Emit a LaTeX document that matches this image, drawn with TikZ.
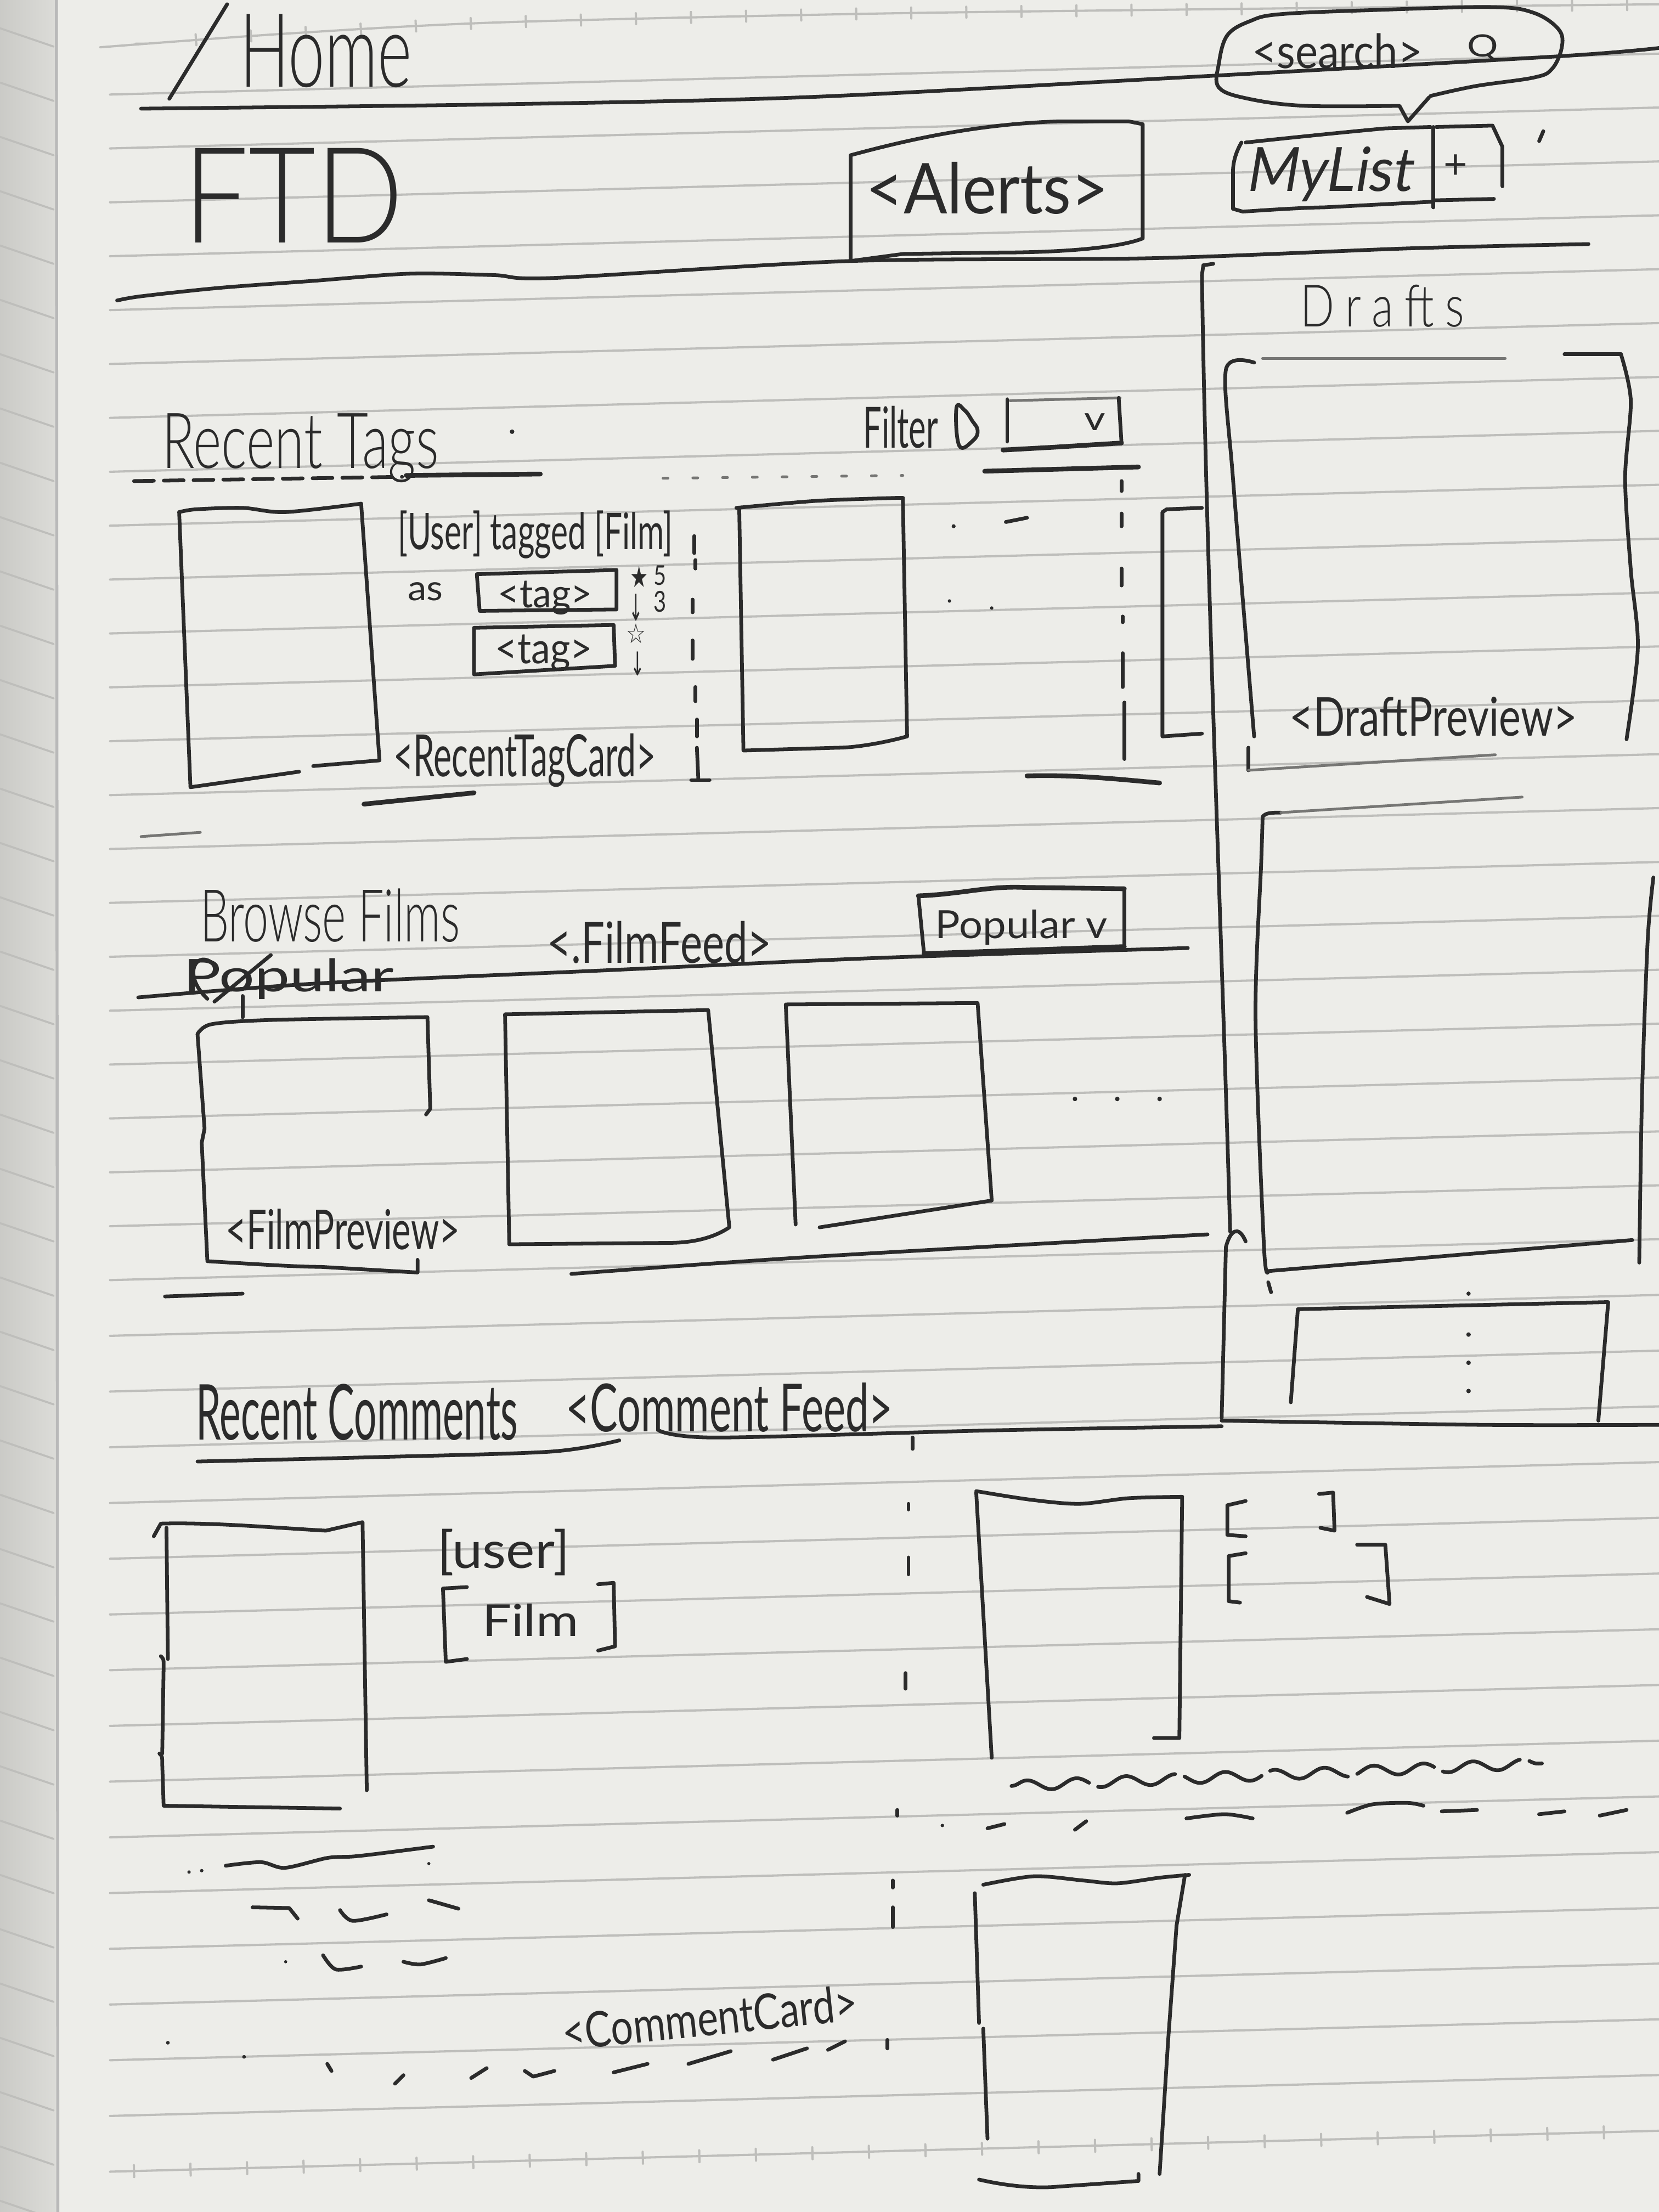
\documentclass[tikz,border=0pt]{standalone}
\usepackage{fontspec}
\setmainfont{Lato}
\newfontfamily\lightfont{Lato Light}
\newfontfamily\symfont{DejaVu Sans}
\newfontfamily\slantfont{Lato}[FakeSlant=0.18]
\usepackage{graphicx}
\usetikzlibrary{decorations.pathmorphing,decorations.pathreplacing}
\definecolor{paper}{HTML}{EDEDE9}
\definecolor{binding}{HTML}{DCDCD8}
\definecolor{rule}{HTML}{BEBEBB}
\definecolor{ink}{HTML}{2B2B2B}
\definecolor{inksoft}{HTML}{767674}
\newlength\pxu
\setlength\pxu{0.01cm}
% fit a handwritten label into a box of w x h sketch units
\newcommand\hw[3]{\resizebox*{#1\pxu}{#2\pxu}{#3}}

\begin{document}
\begin{tikzpicture}[x=0.01cm,y=-0.01cm,line cap=round,line join=round,
  penline/.style={draw=ink,line width=0.75pt},
  boldline/.style={draw=ink,line width=0.95pt},
  softline/.style={draw=inksoft,line width=0.55pt},
  ruleline/.style={draw=rule,line width=0.45pt},
  hand/.style={inner sep=0pt,outer sep=0pt,text=ink,anchor=center},
  inkdot/.style={fill=ink,draw=none}]

\useasboundingbox (0,0) rectangle (1176,1568);

% ---------- notebook page ----------
\fill[paper] (0,0) rectangle (1176,1568);
\shade[left color=binding!92!black,right color=binding] (0,0) rectangle (40,1568);
\foreach \k in {0,...,40}
  \draw[rule,line width=0.4pt] (0,20+38.5*\k) -- (38,33+38.5*\k);
\draw[gray!55,line width=0.6pt] (40,0) -- (41,1568);

\draw[ruleline] plot[smooth] coordinates {(71,33.5) (200,24) (350,16) (600,10) (817,7) (1176,3)};
\draw[ruleline,decorate,decoration={ticks,segment length=11.1pt,amplitude=1.1pt}]
  plot[smooth] coordinates {(100,31) (200,24) (350,16) (600,10) (817,7) (1176,3)};
\foreach \k in {0,...,38}{
  \pgfmathsetmacro\yy{67+38.2*\k+1.3*max(\k-22,0)}
  \draw[ruleline] (78,\yy) -- (1176,\yy-29);
}
\draw[ruleline,decorate,decoration={ticks,segment length=11.4pt,amplitude=1.2pt}]
  (95,1539) -- (1176,1510.5);

% ---------- header ----------
\draw[penline] (120,70) -- (161,3);
\node[hand] (home) at (231,36) {\hw{122}{52}{\lightfont Home}};
\draw[penline] plot[smooth] coordinates {(100,77) (350,74) (568,69) (817,56) (1103,40) (1176,34)};

% search bubble
\draw[penline] plot[smooth,tension=0.6] coordinates {(1014,68) (1046,61) (1087,55) (1100,49) (1107,34) (1105,21) (1087,9) (1057,5) (977,7) (908,10) (886,15) (870,25) (864,45) (864,62) (885,70) (925,75) (992,75)} -- (998,86) -- (1013,69);
\node[hand] (search) at (948,36) {\hw{121}{25}{<search>}};
\node[hand] (searchq) at (1051,34) {\hw{22}{19}{Q}};

\node[hand] (ftd) at (208,138.5) {\hw{156}{67}{\lightfont FTD}};

% alerts
\draw[penline] (603,185) -- (603,110) .. controls (640,100) and (690,88) .. (751,86) -- (800,86) -- (810,88) -- (810,169)
  .. controls (790,177) and (740,179) .. (709,179) -- (640,180) -- cycle;
\node[hand] (alerts) at (700,133.5) {\hw{172}{37}{<Alerts>}};

% my list
\draw[penline] (883,101) .. controls (920,97) and (960,93) .. (982,91) -- (1014,90);
\draw[penline] (880,101) .. controls (876,108) and (874,115) .. (874,122) -- (874,148) -- (881,150)
  .. controls (910,148) and (930,147) .. (938,147) -- (1015,143);
\draw[penline] (1016,90) -- (1016,147);
\draw[penline] (1018,90) -- (1058,89) -- (1065,104) -- (1065,132);
\draw[penline] (1016,142) -- (1059,141);
\draw[penline] (1091,100) -- (1094,93);
\node[hand] (mylist) at (941.5,123.5) {\hw{117}{39}{\slantfont MyList}};
\node[hand] (plus) at (1032,118) {\hw{17}{17}{+}};

\draw[penline] plot[smooth] coordinates {(83,213) (100,210) (156,204) (223,199) (290,194) (350,195) (393,197) (603,185) (817,183) (1000,176) (1126,173)};

% ---------- drafts column ----------
\draw[penline] (860,187) -- (853,188) -- (852,195) .. controls (855,400) and (866,660) .. (872,873);
\draw[penline] (869,884) .. controls (872,872) and (878,868) .. (883,880);
\draw[penline] (869,884) -- (866,1005);
\draw[penline] plot[smooth] coordinates {(866,1007) (1050,1010) (1176,1010)};
\node[hand] (drafts) at (980,217) {\hw{116}{30}{\lightfont\addfontfeature{LetterSpace=25}Drafts}};

% draft preview 1
\draw[penline] plot[smooth] coordinates {(889,257) (869,262) (874,339) (889,522)};
\draw[softline] (895,254) -- (1067,254);
\draw[penline] (1109,251) -- (1149,251);
\draw[penline] plot[smooth] coordinates {(1149,251) (1156,284) (1152,339) (1156,404) (1161,459) (1153,524)};
\draw[penline] (885,530) -- (885,546);
\draw[softline] (885,546) -- (1060,535);
\node[hand] (draftpreview) at (1016,508) {\hw{204}{28}{<DraftPreview>}};

% draft preview 2
\draw[penline] (895,579) .. controls (897,576) and (902,576) .. (908,576);
\draw[softline] (908,576) -- (1079,565);
\draw[penline] plot[smooth] coordinates {(895,580) (894,612) (890,721) (896,884) (899,901)} -- (1157,879);
\draw[penline] plot[smooth] coordinates {(1172,622) (1168,666) (1164,775) (1162,895)};
\draw[penline] (899,909) -- (901,916);

% more drafts
\draw[penline] (915,994) -- (920,928) -- (1140,923) -- (1133,1007);
\fill[inkdot] (1041,917) circle (1.5);
\foreach \yy in {946,966,986} \fill[inkdot] (1041,\yy) circle (1.6);

% ---------- recent tags ----------
\node[hand] (recenttags) at (213,317.5) {\hw{196}{49}{\lightfont Recent Tags}};
\fill[inkdot] (363,306) circle (1.6);
\draw[penline,dash pattern=on 4pt off 2pt] (95,341) -- (285,338);
\draw[boldline] (288,337) -- (383,336);
\draw[softline,dash pattern=on 1pt off 5pt] (470,339) -- (640,337);
\draw[boldline] (698,334) -- (807,331);

\node[hand] (filter) at (638.5,303) {\hw{53}{30}{Filter}};
\draw[penline] plot[smooth cycle,tension=0.7] coordinates {(678,289) (684,291) (689,298) (693,305) (690,312) (680,316)};
\draw[softline] (716,284) -- (794,282);
\draw[penline] (714,283) -- (714,313);
\draw[penline] (793,282) -- (795,314);
\draw[boldline] (711,319) -- (747,317) -- (795,314);
\node[hand] (ddv) at (776,299) {\hw{15}{12}{v}};

% recent tag card
\draw[penline] plot[smooth] coordinates {(256,357) (202,363) (172,360) (139,361) (127,363)};
\draw[penline] (127,363) -- (135,558) -- (212,547);
\draw[penline] (222,543) -- (269,539) -- (256,357);
\node[hand] (tagline) at (379.5,379) {\hw{195}{34}{[User] tagged [Film]}};
\node[hand] (as) at (301.5,419.5) {\hw{25}{13}{as}};
\draw[penline] (338,407) -- (437,404) -- (437,432) -- (340,433) -- cycle;
\draw[penline] (336,445) -- (435,443) -- (436,472) -- (336,478) -- cycle;
\node[hand] (tag1) at (386.5,424) {\hw{67}{24}{<tag>}};
\node[hand] (tag2) at (385.5,463) {\hw{69}{26}{<tag>}};
\node[hand] (up1) at (453,409) {\hw{13}{15}{\symfont ★}};
\node[hand] (n5) at (468,408) {\hw{9}{14}{5}};
\node[hand] (down1) at (451,430.5) {\hw{10}{19}{\symfont ↓}};
\node[hand] (n3) at (468,426.5) {\hw{9}{15}{3}};
\node[hand] (up2) at (451,449) {\hw{14}{14}{\symfont ☆}};
\node[hand] (down2) at (452,470.5) {\hw{10}{17}{\symfont ↓}};
\node[hand] (recenttagcard) at (372,539) {\hw{186}{38}{<RecentTagCard>}};

\foreach \a/\b/\c/\d in {492/380/492/392, 493/397/493/403, 491/425/491/434, 491/454/491/467, 493/487/493/497, 494/510/494/522, 494/530/495/552}
  \draw[penline] (\a,\b) -- (\c,\d);

\draw[penline] plot[smooth] coordinates {(522,360) (579,355) (633,353) (640,353)} -- (643,522)
  .. controls (625,527) and (605,530) .. (594,530) -- (527,532) -- (524,360);
\fill[inkdot] (676,373) circle (1.4);
\draw[penline] (713,370) -- (728,367);
\fill[inkdot] (673,426) circle (1.2);
\fill[inkdot] (703,431) circle (1.2);

\foreach \a/\b/\c/\d in {795/341/795/348, 795/364/795/373, 795/403/795/415, 796/437/796/441, 796/463/796/487, 797/498/797/538}
  \draw[penline] (\a,\b) -- (\c,\d);

\draw[penline] (852,360) -- (827,361) -- (824,363) -- (824,522) -- (852,520);

\draw[boldline] (258,570) -- (336,562);
\draw[penline] (490,553) -- (503,553);
\draw[boldline] (728,550) .. controls (760,549) and (790,552) .. (822,555);
\draw[softline] (100,593) -- (142,590);

% ---------- browse films ----------
\node[hand] (browse) at (234,649) {\hw{184}{38}{\lightfont Browse Films}};
\node[hand] (popstruck) at (204.5,694) {\hw{149}{29}{Popular}};
\draw[penline] (152,710) -- (192,677);
\draw[penline] (147,708) .. controls (128,690) and (140,672) .. (152,684);
\draw[penline] (172,706) -- (172,721);
\draw[penline] plot[smooth] coordinates {(98,707) (227,697) (425,688) (623,679) (842,672)};
\node[hand] (filmfeed) at (467.5,668) {\hw{159}{30}{<.FilmFeed>}};

\draw[boldline] (651,635) .. controls (680,634) and (700,628) .. (725,629) -- (797,630);
\draw[penline] (651,635) -- (655,676);
\draw[penline] (797,630) -- (797,671);
\draw[boldline] (655,676) -- (797,671);
\node[hand] (popular) at (724,657.5) {\hw{122}{25}{Popular v}};

\draw[penline] plot[smooth] coordinates {(140,733) (150,726) (192,723) (303,721)} -- (305,786) -- (302,790);
\draw[penline] (140,733) -- (145,800) -- (143,810) -- (147,894) .. controls (180,896) and (210,898) .. (227,898) -- (296,902) -- (296,893);
\node[hand] (filmpreview) at (243,871.5) {\hw{166}{29}{<FilmPreview>}};
\draw[penline] (358,719) -- (502,716) -- (517,870) .. controls (505,878) and (490,881) .. (474,881) -- (361,882) -- cycle;
\draw[penline] (564,868) -- (557,712) -- (693,711) -- (703,851) -- (581,870);
\foreach \xx in {762,792,822} \fill[inkdot] (\xx,779) circle (1.6);
\draw[penline] plot[smooth] coordinates {(405,903) (574,891) (856,875)};
\draw[penline] (117,919) -- (172,917);

% ---------- recent comments ----------
\node[hand] (recentcomments) at (253,1001) {\hw{228}{40}{Recent Comments}};
\node[hand] (commentfeed) at (517,997.5) {\hw{232}{35}{<Comment Feed>}};
\draw[penline] plot[smooth] coordinates {(140,1036) (262,1033) (390,1029) (439,1021)};
\draw[penline] plot[smooth] coordinates {(467,1014) (508,1019) (700,1014) (866,1011)};

% comment card
\draw[penline] (109,1089) -- (114,1080) .. controls (150,1079) and (195,1083) .. (231,1085) -- (257,1079) -- (260,1269);
\draw[penline] (118,1083) -- (119,1176);
\draw[penline] (114,1174) .. controls (116,1176) .. (116,1181) -- (115,1243);
\draw[penline] (113,1243) .. controls (115,1245) .. (115,1250) -- (116,1280) -- (241,1282);
\node[hand] (user) at (357,1100.5) {\hw{94}{33}{[user]}};
\draw[penline] (331,1125) -- (314,1126) -- (316,1178) -- (331,1176);
\draw[penline] (424,1123) -- (435,1122) -- (436,1167) -- (424,1170);
\node[hand] (film) at (376,1148.5) {\hw{68}{23}{Film}};

\foreach \a/\b/\c/\d in {647/1019/647/1027, 644/1066/644/1070, 644/1104/644/1116, 642/1186/642/1197, 636/1283/636/1287, 633/1333/633/1338, 633/1352/633/1366, 629/1446/629/1452}
  \draw[penline] (\a,\b) -- (\c,\d);

\draw[penline] plot[smooth] coordinates {(692,1057) (730,1063) (765,1066) (800,1062) (838,1061)};
\draw[penline] (692,1058) -- (703,1246);
\draw[penline] (838,1061) -- (836,1232) -- (818,1232);
\draw[penline] (883,1064) -- (870,1067) -- (870,1088) -- (883,1089);
\draw[penline] (935,1059) -- (945,1058) -- (946,1085) -- (936,1083);
\draw[penline] (883,1101) -- (871,1103) -- (871,1135) -- (879,1136);
\draw[penline] (962,1095) -- (982,1095) -- (985,1137) -- (969,1132);

\draw[penline,dash pattern=on 17pt off 2pt,decorate,decoration={snake,amplitude=1pt,segment length=10pt}]
  (717,1266) -- (1093,1250);
\fill[inkdot] (668,1294) circle (1.2);
\draw[penline] (700,1296) -- (712,1293);
\draw[penline] (762,1297) -- (770,1291);
\draw[penline] plot[smooth] coordinates {(841,1289) (868,1286) (888,1289)};
\draw[penline] plot[smooth] coordinates {(955,1285) (973,1279) (998,1278) (1009,1280)};
\draw[penline] (1022,1284) -- (1047,1283);
\draw[penline] (1091,1286) -- (1109,1284);
\draw[penline] (1134,1287) -- (1153,1283);

\draw[penline] plot[smooth] coordinates {(697,1336) (733,1330) (768,1333) (792,1335) (822,1331) (843,1329)};
\draw[penline] (691,1342) -- (694,1434);
\draw[penline] (697,1438) -- (700,1516);
\draw[penline] (840,1329) -- (834,1365) -- (828,1447) -- (822,1541);
\draw[penline] (694,1545) .. controls (720,1551) and (740,1551) .. (750,1550) -- (807,1546) -- (807,1541);

% placeholder text lines
\fill[inkdot] (134,1327) circle (1.2);
\fill[inkdot] (143,1326) circle (1.2);
\draw[penline] plot[smooth] coordinates {(160,1322.5) (185,1320) (202,1324) (232,1317) (250,1316) (268,1314) (307,1309)};
\fill[inkdot] (304,1321) circle (1.1);
\draw[penline] (179,1352) -- (205,1352.5) -- (211,1360);
\draw[penline] plot[smooth] coordinates {(241,1354) (250,1361.6) (274,1357)};
\draw[penline] (304,1347) -- (325,1353);
\fill[inkdot] (202.5,1390.6) circle (1.1);
\draw[penline] plot[smooth] coordinates {(229,1386) (238,1396) (256,1394)};
\draw[penline] plot[smooth] coordinates {(286,1390.6) (298,1392.5) (316,1388)};
\node[hand,rotate=6] (commentcard) at (503,1430) {\hw{210}{26}{<CommentCard>}};
\fill[inkdot] (119,1448) circle (1.3);
\fill[inkdot] (173,1458) circle (1.3);
\foreach \a/\b/\c/\d in {232/1463/235/1468, 280/1477/286/1471, 334/1473/345/1466, 435/1469/459/1463, 488/1463/518/1454, 548/1460/572/1452, 587/1453/599/1447}
  \draw[penline] (\a,\b) -- (\c,\d);
\draw[penline] (372,1468) -- (378,1472) -- (393,1468);

\end{tikzpicture}
\end{document}
